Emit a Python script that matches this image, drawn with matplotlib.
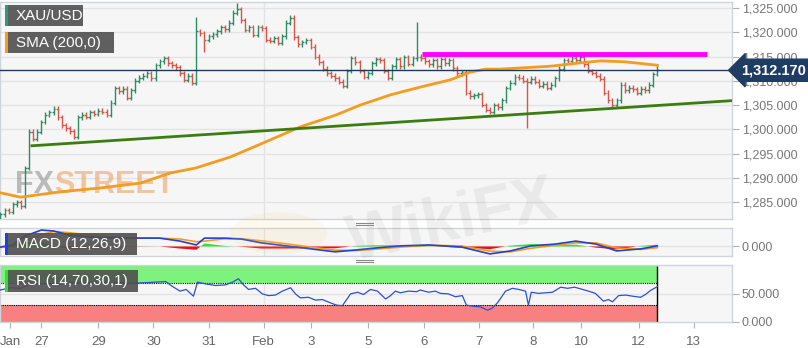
import matplotlib
matplotlib.use("Agg")
import matplotlib.pyplot as plt
import matplotlib.transforms as mtrans
from matplotlib.patches import Rectangle, Circle
import numpy as np

plt.rcParams["font.family"] = ["Liberation Sans", "DejaVu Sans"]

# --- data -------------------------------------------------------------------
closes = [
    1282.5, 1283.3, 1283.0, 1284.5, 1285.0, 1284.2, 1292.0, 1299.5, 1298.0, 1299.5,
    1301.5, 1303.0, 1303.5, 1304.2, 1302.5, 1300.8, 1300.2, 1299.6, 1298.5, 1302.5,
    1303.0, 1302.6, 1303.5, 1303.2, 1303.8, 1303.6, 1303.0, 1305.5, 1308.5, 1307.8,
    1308.4, 1306.5, 1308.0, 1310.0, 1310.6, 1311.0, 1311.5, 1310.5, 1313.2, 1314.0,
    1314.6, 1313.6, 1313.2, 1312.8, 1311.5, 1310.2, 1311.0, 1309.6, 1320.2, 1319.8,
    1318.5, 1319.2, 1319.6, 1320.2, 1321.0, 1320.6, 1322.0, 1324.0, 1324.8, 1322.5,
    1320.5, 1321.0, 1319.5, 1321.0, 1320.8, 1318.5, 1318.2, 1318.8, 1317.8, 1319.2,
    1322.0, 1323.0, 1319.0, 1317.5, 1318.0, 1318.4, 1317.0, 1315.0, 1313.8, 1312.5,
    1311.5, 1311.0, 1310.5, 1309.8, 1309.0, 1312.0, 1314.6, 1313.8, 1312.0, 1310.8,
    1311.6, 1313.6, 1314.4, 1314.2, 1312.0, 1310.6, 1313.0, 1314.5, 1313.0, 1314.8,
    1313.5, 1314.6, 1315.0, 1314.6, 1314.0, 1313.4, 1314.2, 1313.0, 1314.4, 1313.6,
    1314.2, 1312.6, 1311.5, 1311.8, 1307.5, 1306.8, 1307.0, 1307.2, 1305.0, 1304.0,
    1303.6, 1305.0, 1304.5, 1306.0, 1308.5, 1309.6, 1310.8, 1310.6, 1310.0, 1309.8,
    1310.4, 1309.8, 1309.0, 1309.4, 1308.6, 1309.2, 1310.5, 1312.5, 1314.2, 1314.0,
    1314.6, 1314.2, 1314.8, 1313.4, 1312.0, 1311.6, 1311.0, 1310.4, 1307.5, 1306.0,
    1305.0, 1306.0, 1309.2, 1308.0, 1308.6, 1308.2, 1307.5, 1308.4, 1308.0, 1309.2,
    1311.4, 1312.17,
]
first_open = 1282.0
wick = 0.5
# long wicks: bar index -> (high, low), None keeps the default
spikes = {5: (None, 1283.5), 48: (1323.1, None), 50: (None, 1315.9),
          58: (1326.0, None), 71: (1323.6, None), 102: (1322.1, None),
          129: (None, 1300.3), 150: (None, 1304.4), 161: (1313.2, None)}

sma_x = [0, 4.9, 14.7, 24.5, 34.3, 41.7, 47.8, 56.4, 65, 73.5, 82.1, 88.2,
         95.6, 102.9, 110.3, 115.2, 118.9, 122.5, 134.8, 142.2, 147.1, 153.2, 161]
sma_y = [1286.9, 1286.0, 1287.1, 1287.9, 1288.9, 1291.0, 1292.0, 1294.3, 1297.4,
         1300.5, 1302.9, 1305.0, 1307.1, 1308.7, 1310.2, 1311.8, 1312.4, 1312.4,
         1313.0, 1313.7, 1314.1, 1313.9, 1313.2]

trend_x = [7.7, 179.3]
trend_y = [1296.6, 1305.9]
resist_x = [103.3, 173.2]
resist_y = [1315.6, 1315.6]
last_price = 1312.17

macd_x = [0, 3, 6, 10, 13, 17, 25, 32, 39, 44, 48, 50, 55, 59, 64, 70, 76, 82,
          87, 92, 98, 105, 113, 120, 125, 130, 136, 141, 146, 151, 157, 161]
macd = [-0.2, 0.5, 3.5, 5.5, 5.2, 3.8, 2.8, 2.8, 2.8, 1.8, 0.5, 2.8, 2.8, 2.5,
        1.2, 0.2, -0.8, -1.8, -1.2, -0.5, 0.2, 0.5, -0.2, -2.5, -1.5, 0.2, 0.8,
        1.8, 0.8, -1.5, -0.8, 0.2]
signal = [-0.3, 0.0, 2.0, 4.0, 5.0, 4.6, 3.3, 2.9, 2.8, 2.5, 1.6, 1.8, 2.6, 2.6,
          1.9, 0.9, -0.2, -1.2, -1.4, -0.9, -0.2, 0.4, 0.2, -1.6, -1.8, -0.6, 0.4,
          1.2, 1.2, -0.5, -1.0, -0.4]

rsi_x = [0, 2.5, 5, 7, 10, 13.5, 17, 22, 27, 32, 35.5, 38, 40.5, 42, 44, 45.5,
         47.3, 48.3, 50.2, 52.7, 55.1, 56.9, 58.3, 59.6, 60.8, 62.5, 64.2, 65.7,
         67.4, 69.1, 71.1, 72.3, 73.5, 75.5, 77.2, 78.9, 80.9, 82.4, 83.8, 85.8,
         87.5, 89, 90.7, 92.4, 94.4, 95.6, 96.8, 98, 100, 102, 102.9, 104.9, 106.6,
         107.8, 109.8, 111.5, 113.2, 114.2, 115.9, 117.6, 119.4, 120.6, 121.8,
         123.8, 125.5, 127, 128.7, 129.4, 130.1, 131.9, 133.6, 135.3, 137.3, 139,
         140.7, 142.2, 144.1, 145.8, 147.8, 149, 150, 151.5, 153.2, 154.9, 156.9,
         158.1, 159.3, 161]
rsi = [57, 61, 60, 66, 68, 67, 70, 69, 71, 69, 70, 71, 72, 64, 55, 58, 46, 71, 68,
       65, 66, 71, 77, 66, 58, 60, 50, 47, 48, 55, 61, 50, 43, 44, 39, 40, 34, 30,
       29, 50, 53, 49, 58, 55, 41, 47, 55, 52, 55, 54, 57, 53, 55, 51, 50, 45, 47,
       30, 28, 27, 21, 25, 34, 55, 60, 58, 55, 30, 53, 51, 52, 53, 62, 60, 62, 59,
       55, 51, 37, 40, 36, 47, 48, 46, 44, 49, 56, 63]

tick_pos = [2.4, 10.0, 24.0, 37.5, 51.0, 64.5, 76.2, 90.2, 103.7, 117.2, 130.6,
            142.4, 156.4, 169.9]
tick_lab = ["Jan", "27", "29", "30", "31", "Feb", "3", "5", "6", "7", "8", "10",
            "12", "13"]
price_ticks = [1285, 1290, 1295, 1300, 1305, 1310, 1315, 1320, 1325]
feb_pos = 64.5

# --- styling ----------------------------------------------------------------
W, H = 808, 348
UP, DOWN = "#2e8b63", "#d4574a"
PANEL_BG = "#f6f6f6"
EDGE = "#cfd3da"
GRID = "#e3e3e3"
LBL = "#777777"
XMIN, XMAX = -0.12, 179.3


def px_rect(x0, y0, x1, y1):
    """figure fraction rect from pixel box (top-left origin)"""
    return [x0 / W, 1 - y1 / H, (x1 - x0) / W, (y1 - y0) / H]


fig = plt.figure(figsize=(W / 100, H / 100), dpi=100)
ax = fig.add_axes(px_rect(0, 2, 732, 219))
axm = fig.add_axes(px_rect(0, 228, 732, 256), sharex=ax)
axr = fig.add_axes(px_rect(0, 265, 732, 322), sharex=ax)

for a in (ax, axm, axr):
    a.set_facecolor(PANEL_BG)
    for s in a.spines.values():
        s.set_color(EDGE)
        s.set_linewidth(1)
    a.yaxis.tick_right()
    a.tick_params(axis="y", colors="#b0b0b0", labelcolor=LBL, labelsize=9,
                  length=5, width=0.8, pad=2)
    a.axvline(feb_pos, color=GRID, lw=1, zorder=0)
    a.set_xlim(XMIN, XMAX)

# --- price panel ------------------------------------------------------------
ax.set_ylim(1281.5, 1326.24)
ax.set_yticks(price_ticks)
ax.set_yticklabels([f"{v:,.3f}" for v in price_ticks])
for v in price_ticks:
    ax.axhline(v, color=GRID, lw=1, zorder=0)
ax.tick_params(axis="x", bottom=False, labelbottom=False)

opens = [first_open] + closes[:-1]
for i, (o, c) in enumerate(zip(opens, closes)):
    hi, lo = max(o, c) + wick, min(o, c) - wick
    if i in spikes:
        sh, sl = spikes[i]
        hi = sh if sh is not None else hi
        lo = sl if sl is not None else lo
    col = UP if c >= o else DOWN
    ax.vlines(i, lo, hi, color=col, lw=1.0, zorder=3)
    ax.hlines(o, i - 0.45, i, color=col, lw=1.0, zorder=3)
    ax.hlines(c, i, i + 0.45, color=col, lw=1.0, zorder=3)

ax.plot(sma_x, sma_y, color="#f39c1e", lw=2, zorder=4)
ax.plot(trend_x, trend_y, color="#3a7d10", lw=2, zorder=4)
ax.plot(resist_x, resist_y, color="#ff00ff", lw=3.5, zorder=4,
        solid_capstyle="butt")
ax.axhline(last_price, color="#1d3a5a", lw=1, zorder=5)

blend = mtrans.blended_transform_factory(ax.transAxes, ax.transData)
ax.text(1.012, last_price, f"{last_price:,.3f}", transform=blend, ha="left",
        va="center", color="white", fontsize=10.5, fontweight="bold", zorder=10,
        clip_on=False,
        bbox=dict(boxstyle="larrow,pad=0.28", fc="#1f3d63", ec="#1f3d63"))

# FXStreet watermark
fx = ax.text(0.02, 0.12, "FX", transform=ax.transAxes, fontsize=22,
             fontweight="bold", color="#8a8a8a", alpha=0.55, zorder=2)
ax.annotate("STREET", xy=(1, 0), xycoords=fx, va="bottom", fontsize=22,
            fontweight="bold", color="#e8964a", alpha=0.5, zorder=2)

# --- MACD panel -------------------------------------------------------------
axm.set_ylim(-3.2, 6.2)
axm.set_yticks([0])
axm.set_yticklabels(["0.000"])
axm.axhline(0, color=GRID, lw=1, zorder=0)
axm.tick_params(axis="x", bottom=False, labelbottom=False)
hist = np.array(macd) - np.array(signal)
axm.fill_between(macd_x, 0, hist, where=hist >= 0, color="#35e035",
                 interpolate=True, lw=0, zorder=2)
axm.fill_between(macd_x, 0, hist, where=hist < 0, color="#f01010",
                 interpolate=True, lw=0, zorder=2)
axm.plot(macd_x, signal, color="#f39c1e", lw=1.2, zorder=3)
axm.plot(macd_x, macd, color="#2244cc", lw=1.2, zorder=4)

# --- RSI panel --------------------------------------------------------------
axr.set_ylim(0, 101.5)
axr.set_yticks([0, 50])
axr.set_yticklabels(["0.000", "50.000"])
axr.axhline(50, color=GRID, lw=1, zorder=0)
end = rsi_x[-1]
axr.fill_between([XMIN, end], 70, 100, color="#7df27d", lw=0, zorder=1)
axr.fill_between([XMIN, end], 0, 30, color="#f98080", lw=0, zorder=1)
axr.hlines([70, 30], XMIN, end, colors="black", lw=0.8, linestyles=(0, (1, 1)),
           zorder=2)
axr.vlines(end, 0, 100, colors="black", lw=1, zorder=2)
axr.plot(rsi_x, rsi, color="#2f4fd0", lw=0.9, zorder=3)
axr.set_xticks(tick_pos)
axr.set_xticklabels(tick_lab)
axr.tick_params(axis="x", colors="#b0b0b0", labelcolor="#666666", labelsize=9.5,
                length=4, pad=6)

# --- legend chips -----------------------------------------------------------
def chip(x0, y0, x1, y1, stripe, label):
    fig.add_artist(Rectangle(px_rect(x0, y0, x1, y1)[:2],
                             (x1 - x0) / W, (y1 - y0) / H,
                             transform=fig.transFigure, fc="#4f4f4f",
                             alpha=0.9, ec="none", zorder=20))
    fig.add_artist(Rectangle(px_rect(x0, y0, x0 + 3, y1)[:2], 3 / W,
                             (y1 - y0) / H, transform=fig.transFigure,
                             fc=stripe, ec="none", zorder=21))
    fig.text((x0 + 11) / W, 1 - (y0 + y1) / 2 / H, label, color="white",
             fontsize=11, va="center", ha="left", zorder=22)


chip(5, 5, 83, 26, "#2e9a7a", "XAU/USD")
chip(5, 32, 114, 53, "#f39c1e", "SMA (200,0)")
chip(5, 233, 137, 255, "#1a44e0", "MACD (12,26,9)")
chip(5, 270, 138, 292, "#33dd33", "RSI (14,70,30,1)")

# panel drag handles
for yy in (223, 260):
    for dy in (0, 2.2):
        fig.add_artist(plt.Line2D([356 / W, 373 / W],
                                  [1 - (yy + dy) / H] * 2,
                                  transform=fig.transFigure, color="#888888",
                                  lw=0.8, zorder=20))

# WikiFX watermark
fig.add_artist(Circle((0.345, 0.33), 0.06, transform=fig.transFigure,
                      fc="#f1d27a", ec="none", alpha=0.12, zorder=15))
fig.text(0.56, 0.36, "WikiFX", fontsize=46, fontweight="bold", color="#888888",
         alpha=0.12, rotation=12, ha="center", va="center", zorder=15)

fig.savefig("out.png", dpi=100)
